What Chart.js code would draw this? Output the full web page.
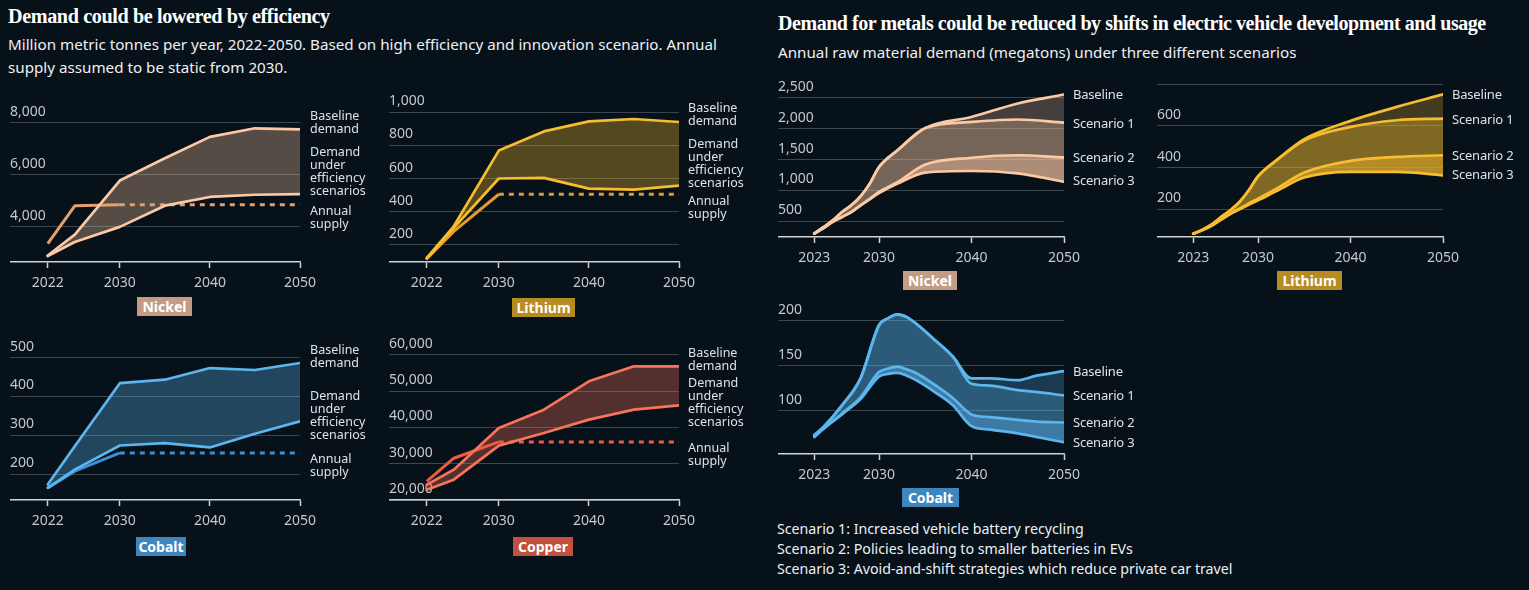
<!DOCTYPE html>
<html lang="en">
<head>
<meta charset="UTF-8">
<title>Metal demand scenarios</title>
<script src="https://cdn.jsdelivr.net/npm/chart.js"></script>
<style>
  body { margin: 0; background: #07111a; width: 1529px; height: 590px; overflow: hidden; position: relative;
         font-family: "Noto Sans", sans-serif; color: #e6e8ea; }
  canvas { position: absolute; }
  .title { position: absolute; font-family: "Liberation Serif", serif; font-weight: bold; font-size: 20.2px;
           color: #fff; letter-spacing: -0.4px; white-space: nowrap; }
  .sub { position: absolute; font-size: 15.2px; line-height: 23px; color: #eef0f2; white-space: nowrap; }
  .lbl { position: absolute; font-size: 12.5px; line-height: 13px; color: #dfe2e4; white-space: nowrap; }
  .rlbl { position: absolute; font-size: 13px; line-height: 16px; color: #dfe2e4; white-space: nowrap; letter-spacing: -0.2px; }
  .tag { position: absolute; color: #fff; font-weight: bold; font-size: 14px; text-align: center; line-height: 19px; }
  .note { position: absolute; left: 777px; font-size: 14.2px; line-height: 20px; color: #eef0f2; white-space: nowrap; }
</style>
</head>
<body>
<div class="title" style="left:8px; top:5px;">Demand could be lowered by efficiency</div>
<div class="sub" style="left:8px; top:33px;">Million metric tonnes per year, 2022-2050. Based on high efficiency and innovation scenario. Annual<br>supply assumed to be static from 2030.</div>
<div class="title" style="left:778px; top:12px; font-size:20px; letter-spacing:-0.45px;">Demand for metals could be reduced by shifts in electric vehicle development and usage</div>
<div class="sub" style="left:778px; top:41px;">Annual raw material demand (megatons) under three different scenarios</div>

<div class="note" style="top:519px;">Scenario 1: Increased vehicle battery recycling</div>
<div class="note" style="top:539px;">Scenario 2: Policies leading to smaller batteries in EVs</div>
<div class="note" style="top:559px;">Scenario 3: Avoid-and-shift strategies which reduce private car travel</div>

<script>
// ---- left: efficiency scenario (million metric tonnes) ----
const leftYears = [2022, 2025, 2030, 2035, 2040, 2045, 2050];
const supplyYears = [2022, 2025, 2030, 2050];
const leftTicks = [2022, 2030, 2040, 2050];

const nickelBaseline = [2900, 3700, 5780, 6640, 7460, 7790, 7750];
const nickelEfficiency = [2880, 3420, 4000, 4815, 5150, 5235, 5260];
const nickelSupply = [3360, 4810, 4850, 4850];
const nickelTicks = [4000, 6000, 8000];

const lithiumBaseline = [120, 311, 769, 885, 946, 960, 942];
const lithiumEfficiency = [115, 301, 600, 604, 539, 533, 557];
const lithiumSupply = [115, 280, 505, 505];
const lithiumTicks = [200, 400, 600, 800, 1000];

const cobaltBaseline = [174, 272, 434, 443, 473, 468, 486];
const cobaltEfficiency = [165, 212, 274, 280, 269, 304, 336];
const cobaltSupply = [165, 208, 255, 255];
const cobaltTicks = [200, 300, 400, 500];

const copperBaseline = [24200, 28350, 39840, 44880, 52670, 56800, 56800];
const copperEfficiency = [22840, 25600, 34960, 38460, 42120, 44880, 46060];
const copperSupply = [25120, 31500, 36000, 36000];
const copperTicks = [20000, 30000, 40000, 50000, 60000];

// ---- right: EV scenarios (megatons) ----
const evYears = [2023, 2024, 2025, 2026, 2027, 2028, 2029, 2030, 2032, 2035, 2040, 2045, 2050];
const evTicks = [2023, 2030, 2040, 2050];

const evNickelBaseline = [300, 405, 515, 650, 760, 905, 1110, 1380, 1650, 2010, 2190, 2410, 2555];
const evNickelS1 = [300, 405, 515, 650, 760, 905, 1110, 1380, 1650, 2010, 2110, 2150, 2100];
const evNickelS2 = [300, 390, 490, 570, 650, 760, 865, 975, 1135, 1420, 1530, 1570, 1535];
const evNickelS3 = [300, 390, 490, 570, 650, 755, 855, 955, 1110, 1290, 1315, 1275, 1140];
const evNickelTicks = [500, 1000, 1500, 2000, 2500];

const evLithiumBaseline = [83, 102, 127, 162, 195, 235, 291, 358, 435, 536, 624, 691, 751];
const evLithiumS1 = [83, 102, 127, 162, 195, 235, 291, 358, 435, 530, 595, 627, 635];
const evLithiumS2 = [83, 100, 122, 150, 179, 203, 228, 251, 299, 376, 432, 451, 459];
const evLithiumS3 = [83, 100, 122, 150, 177, 200, 222, 243, 287, 352, 379, 379, 363];
const evLithiumTicks = [200, 400, 600, 800];

const cobaltYears = [2023, 2024, 2026, 2028, 2030, 2031, 2032, 2033, 2034, 2036, 2038, 2040, 2042, 2045, 2047, 2050];
const evCobaltBaseline = [73, 82, 106, 136, 195, 203, 207, 204, 197, 179, 160, 136, 136, 134, 139, 144];
const evCobaltS1 = [73, 82, 106, 136, 195, 203, 207, 204, 197, 179, 160, 130, 128, 123, 121, 117];
const evCobaltS2 = [71, 80, 97, 115, 143, 147, 149, 146, 142, 129, 114, 96, 93, 90, 88, 87];
const evCobaltS3 = [71, 80, 96, 113, 138, 141, 142, 139, 134, 121, 106, 83, 79, 75, 71, 65];
const evCobaltTicks = [100, 150, 200];

// ---- styling ----
const AX = '#cfd3d6', GRID = 'rgba(255,255,255,0.22)', TICK = '#c3c8cc';
const XH = 31, PAD_T = 20, PAD_R = 24, PAD_B = 2;
Chart.defaults.font.family = '"Noto Sans", sans-serif';

const pal = {
  nickel:  { line: '#fcc9a4', supply: '#e39f6e', rgb: '252,201,164', tag: '#c29c84' },
  lithium: { line: '#f7bd2e', supply: '#e59b2a', rgb: '247,189,46',  tag: '#b58b22' },
  cobalt:  { line: '#5cb6ee', supply: '#3b8fd2', rgb: '92,182,238',  tag: '#3f86bf' },
  copper:  { line: '#f7745a', supply: '#ee5a40', rgb: '247,116,90',  tag: '#c2513e' }
};

function pts(xs, ys) { return ys.map((y, i) => ({ x: xs[i], y: y })); }

function makeChart(rect, xMin, xTicks, yMin, yMax, yTicks, labelMax, datasets) {
  const cv = document.createElement('canvas');
  cv.width = rect.r - rect.l + PAD_R;
  cv.height = rect.b - rect.t + PAD_T + XH + PAD_B;
  cv.style.left = rect.l + 'px';
  cv.style.top = (rect.t - PAD_T) + 'px';
  document.body.appendChild(cv);
  return new Chart(cv, {
    type: 'line',
    data: { datasets: datasets },
    options: {
      responsive: false,
      animation: false,
      layout: { padding: { left: 0, right: PAD_R, top: PAD_T, bottom: PAD_B } },
      elements: { point: { radius: 0 }, line: { borderWidth: 2.7, borderCapStyle: 'round', borderJoinStyle: 'round' } },
      plugins: { legend: { display: false }, tooltip: { enabled: false }, filler: { drawTime: 'beforeDatasetsDraw' } },
      scales: {
        x: {
          type: 'linear', min: xMin, max: 2050,
          afterBuildTicks: s => { s.ticks = xTicks.map(v => ({ value: v })); },
          afterFit: s => { s.height = XH; },
          ticks: { callback: v => String(v), color: TICK, font: { size: 14 }, padding: 7, maxRotation: 0, autoSkip: false },
          grid: { drawOnChartArea: false, drawTicks: true, tickLength: 6, tickColor: AX, tickWidth: 1.5 },
          border: { display: true, color: AX, width: 1.5 }
        },
        y: {
          type: 'linear', min: yMin, max: yMax,
          afterBuildTicks: s => { s.ticks = yTicks.map(v => ({ value: v })); },
          afterFit: s => { s.width = 0; },
          ticks: { mirror: true, padding: 0, labelOffset: -11, color: TICK, font: { size: 14 },
                   callback: v => v > labelMax ? '' : v.toLocaleString('en-US') },
          grid: { color: GRID, lineWidth: 1, drawTicks: false },
          border: { display: false }
        }
      }
    }
  });
}

function leftSets(c, base, eff, sup) {
  return [
    { label: 'Baseline demand', data: pts(leftYears, base), borderColor: c.line,
      fill: '+1', backgroundColor: 'rgba(' + c.rgb + ',0.32)', tension: 0 },
    { label: 'Demand under efficiency scenarios', data: pts(leftYears, eff), borderColor: c.line, fill: false, tension: 0 },
    { label: 'Annual supply', data: pts(supplyYears, sup), borderColor: c.supply, borderWidth: 3, fill: false, tension: 0,
      borderCapStyle: 'butt',
      segment: { borderDash: ctx => ctx.p0.parsed.x >= 2030 ? [5, 5] : undefined } }
  ];
}

function evSets(c, xs, base, s1, s2, s3, alphas) {
  const common = { borderColor: c.line, cubicInterpolationMode: 'monotone' };
  return [
    Object.assign({ label: 'Baseline', data: pts(xs, base), fill: '+1', backgroundColor: 'rgba(' + c.rgb + ',' + alphas[0] + ')' }, common),
    Object.assign({ label: 'Scenario 1', data: pts(xs, s1), fill: '+1', backgroundColor: 'rgba(' + c.rgb + ',' + alphas[1] + ')' }, common),
    Object.assign({ label: 'Scenario 2', data: pts(xs, s2), fill: '+1', backgroundColor: 'rgba(' + c.rgb + ',' + alphas[2] + ')' }, common),
    Object.assign({ label: 'Scenario 3', data: pts(xs, s3), fill: false }, common)
  ];
}

const LX = 2017.81, RX = 2019.08;

makeChart({ l: 10, r: 300, t: 102, b: 262 }, LX, leftTicks, 2650, 8800, nickelTicks, Infinity,
  leftSets(pal.nickel, nickelBaseline, nickelEfficiency, nickelSupply));
makeChart({ l: 389, r: 679, t: 100, b: 262 }, LX, leftTicks, 95, 1075, lithiumTicks, Infinity,
  leftSets(pal.lithium, lithiumBaseline, lithiumEfficiency, lithiumSupply));
makeChart({ l: 10, r: 300, t: 340, b: 500 }, LX, leftTicks, 134, 545, cobaltTicks, Infinity,
  leftSets(pal.cobalt, cobaltBaseline, cobaltEfficiency, cobaltSupply));
makeChart({ l: 389, r: 679, t: 338, b: 500 }, LX, leftTicks, 20000, 64600, copperTicks, Infinity,
  leftSets(pal.copper, copperBaseline, copperEfficiency, copperSupply));

makeChart({ l: 778, r: 1064, t: 80, b: 237 }, RX, evTicks, 245, 2790, evNickelTicks, Infinity,
  evSets(pal.nickel, evYears, evNickelBaseline, evNickelS1, evNickelS2, evNickelS3, [0.25, 0.45, 0.68]));
makeChart({ l: 1157, r: 1443, t: 80, b: 237 }, RX, evTicks, 67, 820, evLithiumTicks, 600,
  evSets(pal.lithium, evYears, evLithiumBaseline, evLithiumS1, evLithiumS2, evLithiumS3, [0.25, 0.5, 0.72]));
makeChart({ l: 778, r: 1064, t: 305, b: 454 }, RX, evTicks, 52, 217.5, evCobaltTicks, Infinity,
  evSets(pal.cobalt, cobaltYears, evCobaltBaseline, evCobaltS1, evCobaltS2, evCobaltS3, [0.25, 0.45, 0.65]));

// ---- text labels and metal tags ----
function addText(cls, x, top, html) {
  const d = document.createElement('div');
  d.className = cls; d.style.left = x + 'px'; d.style.top = top + 'px'; d.innerHTML = html;
  document.body.appendChild(d);
}
function leftLabels(x, tops) {
  addText('lbl', x, tops[0], 'Baseline<br>demand');
  addText('lbl', x, tops[1], 'Demand<br>under<br>efficiency<br>scenarios');
  addText('lbl', x, tops[2], 'Annual<br>supply');
}
leftLabels(310, [108.5, 144.5, 204]);
leftLabels(688, [101, 137, 193.5]);
leftLabels(310, [343, 388.5, 452]);
leftLabels(688, [346, 376, 441]);

function evLabels(x, centers) {
  ['Baseline', 'Scenario 1', 'Scenario 2', 'Scenario 3'].forEach((t, i) => addText('rlbl', x, centers[i] - 8, t));
}
evLabels(1073, [94, 122.7, 157.3, 180]);
evLabels(1452, [94, 119, 155, 174]);
evLabels(1073, [370.7, 395, 421.7, 441.7]);

function tag(name, c, x, y, w) {
  const d = document.createElement('div');
  d.className = 'tag'; d.textContent = name;
  d.style.cssText += 'left:' + x + 'px;top:' + y + 'px;width:' + w + 'px;height:19px;background:' + c.tag + ';';
  document.body.appendChild(d);
}
tag('Nickel', pal.nickel, 137, 297, 55);
tag('Lithium', pal.lithium, 512, 298, 63);
tag('Cobalt', pal.cobalt, 136, 537, 50);
tag('Copper', pal.copper, 513, 537, 60);
tag('Nickel', pal.nickel, 903, 271, 54);
tag('Lithium', pal.lithium, 1277, 271, 65);
tag('Cobalt', pal.cobalt, 902, 488, 57);
</script>
</body>
</html>
